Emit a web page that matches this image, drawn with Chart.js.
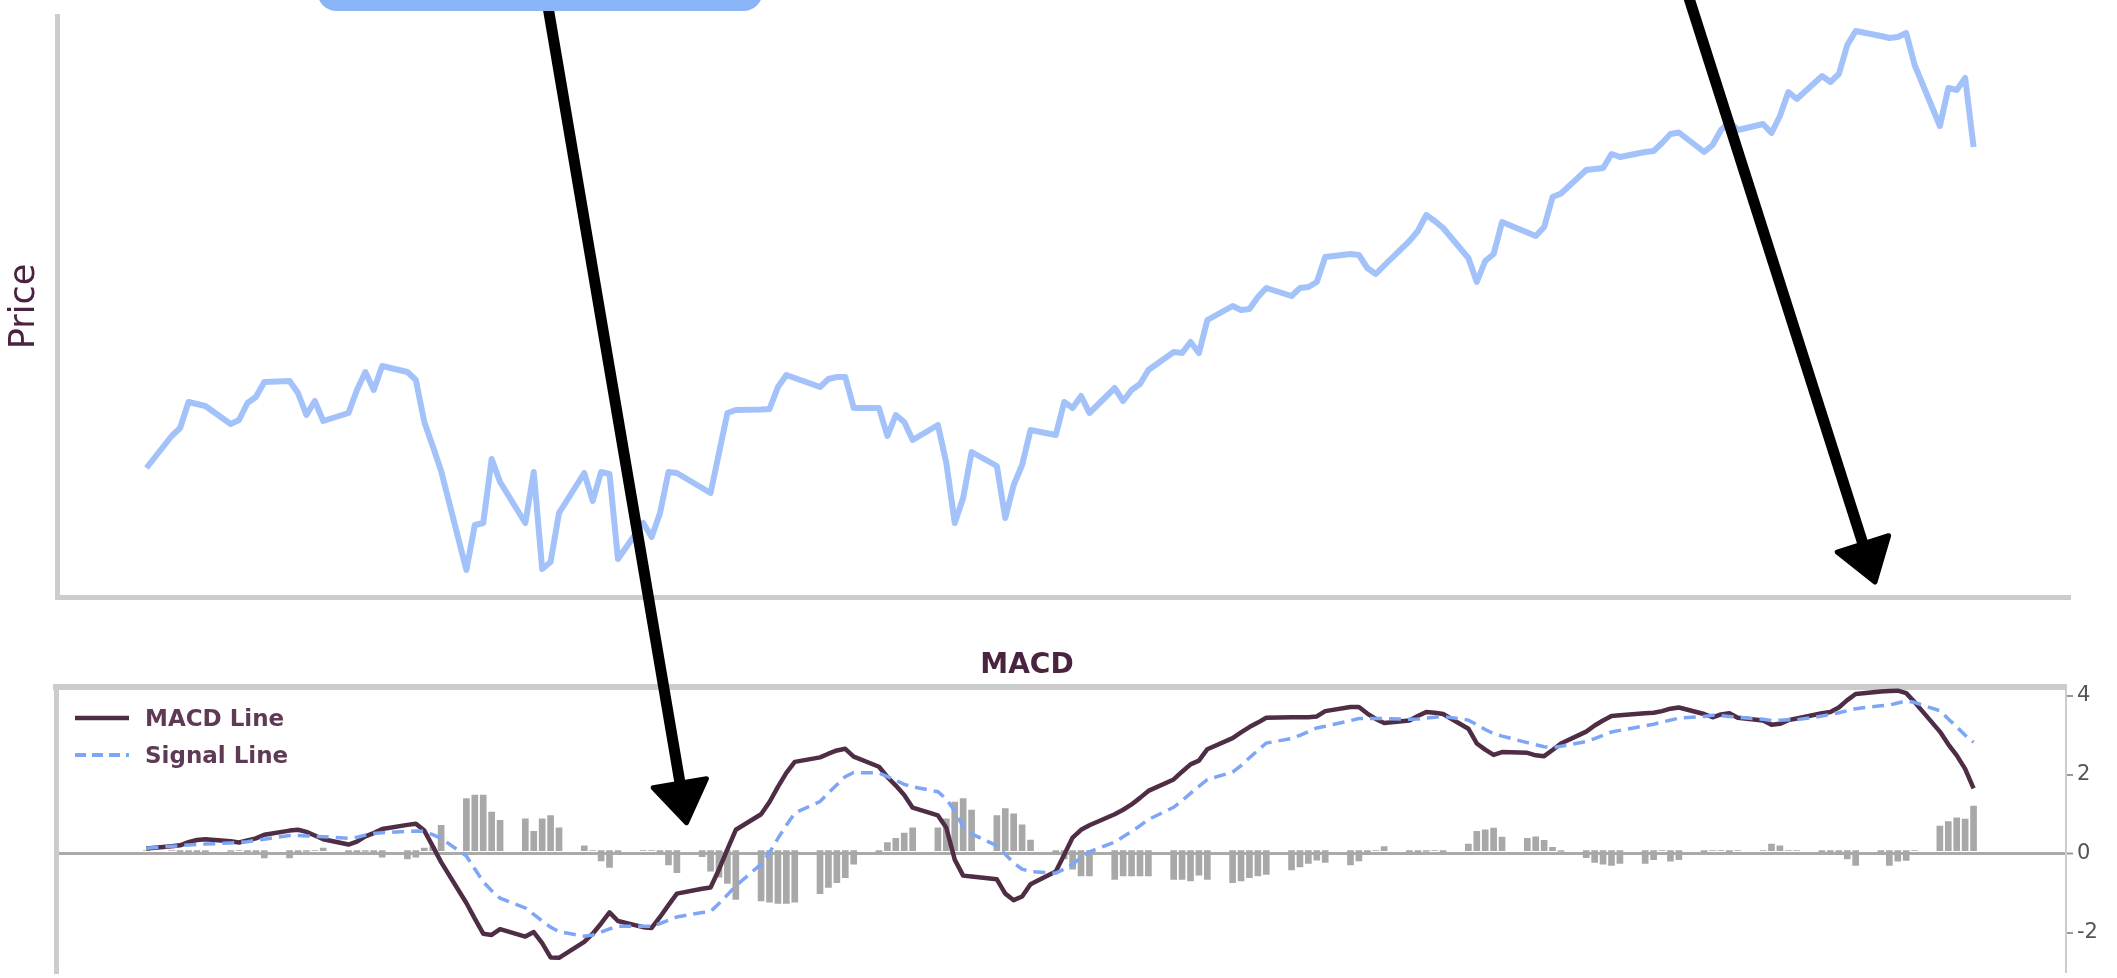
<!DOCTYPE html>
<html>
<head>
<meta charset="utf-8">
<script src="https://cdn.jsdelivr.net/npm/chart.js@4.4.1/dist/chart.umd.min.js"></script>
<style>
  html, body { margin: 0; padding: 0; background: #fff; overflow: hidden; }
  body { width: 2117px; height: 978px; position: relative; }
  canvas { position: absolute; left: 0; }
  #priceChart { top: 0; }
  #macdChart { top: 640px; }
  .macd-title {
    position: absolute; left: 927px; width: 200px; top: 647px;
    text-align: center; font: 600 28px "DejaVu Sans", sans-serif; line-height: 34px;
    color: #4a2340;
  }
  .legend-item {
    position: absolute; left: 75px; height: 30px; display: flex; align-items: center;
    font: bold 23px "DejaVu Sans", sans-serif; color: #5e3a55;
  }
  .legend-item svg { margin-right: 16px; }
  .note-box {
    position: absolute; left: 317px; top: -40px; width: 446px; height: 51px;
    background: #8ab4f8; border-radius: 20px; z-index: 5;
  }
  #arrows { position: absolute; left: 0; top: 0; z-index: 4; pointer-events: none; }
</style>
</head>
<body>
<canvas id="priceChart" width="2117" height="600"></canvas>
<canvas id="macdChart" width="2117" height="350"></canvas>

<div class="macd-title">MACD</div>
<div class="legend-item" style="top:703px">
  <svg width="54" height="10"><line x1="0" y1="5" x2="54" y2="5" stroke="#4f2d45" stroke-width="4.5"/></svg>MACD Line
</div>
<div class="legend-item" style="top:740px">
  <svg width="54" height="10"><line x1="0" y1="5" x2="54" y2="5" stroke="#7ea6f6" stroke-width="4" stroke-dasharray="11 6"/></svg>Signal Line
</div>

<div class="note-box"></div>
<svg id="arrows" width="2117" height="978">
  <line x1="546" y1="-5" x2="680" y2="783" stroke="#000" stroke-width="11"/>
  <polygon points="686.5,822.7 706.4,778.8 653.2,787.8" fill="#000" stroke="#000" stroke-width="5" stroke-linejoin="round"/>
  <line x1="1688" y1="-5" x2="1863" y2="544" stroke="#000" stroke-width="11"/>
  <polygon points="1875,582 1888.6,535.7 1837.2,552.1" fill="#000" stroke="#000" stroke-width="5" stroke-linejoin="round"/>
</svg>

<script>
// Daily closes, one per trading day (weekends skipped), first session on a Friday
const startDate = "2023-06-02";

const closePrice = [
  125.8,
  132.2, 133.8, 139.0, 138.6, 138.2,
  134.6, 135.4, 138.8, 140.0, 143.0,
  143.2, 140.8, 136.4, 139.2, 135.2,
  136.8, 141.4, 145.0, 141.4, 146.2,
  145.0, 143.4, 135.0, 130.2, 125.2,
  105.4, 114.4, 114.8, 127.6, 123.0,
  114.8, 125.0, 105.6, 107.0, 116.8,
  124.8, 119.2, 125.0, 124.6, 107.6,
  114.8, 112.0, 116.8, 125.0, 124.8,
  121.8, 120.8, 128.8, 136.8, 137.4,
  137.5, 137.6, 142.0, 144.4, 143.8,
  142.0, 143.6, 144.0, 144.0, 137.8,
  137.8, 132.2, 136.4, 135.0, 131.4,
  134.4, 126.8, 114.8, 119.8, 129.0,
  126.2, 115.8, 122.4, 126.4, 133.4,
  132.4, 139.0, 137.8, 140.2, 136.8,
  141.8, 139.2, 141.4, 142.6, 145.4,
  149.0, 148.8, 151.0, 148.8, 155.4,
  158.2, 157.4, 157.6, 160.0, 161.8,
  160.2, 161.8, 162.0, 163.0, 168.0,
  168.6, 168.4, 165.8, 164.6, 166.3,
  171.2, 173.2, 176.4, 175.2, 173.8,
  167.8, 163.0, 167.2, 168.6, 175.0,
  172.9, 172.2, 174.0, 180.0, 180.7,
  185.4, 185.6, 185.8, 188.6, 188.0,
  189.0, 189.2, 190.8, 192.6, 192.9,
  189.0, 190.4, 193.4, 195.0, 193.4,
  194.6, 192.8, 196.2, 201.0, 199.6,
  204.2, 203.0, 204.6, 210.4, 213.2,
  212.2, 211.8, 212.0, 212.8, 206.4,
  194.2, 201.8, 201.4, 203.8, 190.0
];

const macdLine = [
  0.05,
  0.11, 0.13, 0.21, 0.26, 0.28,
  0.23, 0.20, 0.25, 0.30, 0.39,
  0.49, 0.51, 0.46, 0.37, 0.28,
  0.15, 0.22, 0.35, 0.43, 0.53,
  0.63, 0.66, 0.49, 0.11, -0.28,
  -1.28, -1.66, -2.03, -2.06, -1.92,
  -2.10, -1.99, -2.26, -2.61, -2.62,
  -2.23, -2.03, -1.78, -1.51, -1.72,
  -1.87, -1.89, -1.62, -1.33, -1.05,
  -0.93, -0.90, -0.46, 0.03, 0.51,
  0.89, 1.19, 1.56, 1.90, 2.17,
  2.28, 2.37, 2.45, 2.49, 2.30,
  2.05, 1.80, 1.59, 1.36, 1.05,
  0.86, 0.56, -0.22, -0.61, -0.63,
  -0.70, -1.05, -1.21, -1.12, -0.82,
  -0.51, -0.10, 0.32, 0.51, 0.62,
  0.89, 1.00, 1.13, 1.29, 1.46,
  1.74, 1.93, 2.11, 2.20, 2.48,
  2.75, 2.89, 3.02, 3.13, 3.25,
  3.26, 3.26, 3.26, 3.28, 3.41,
  3.51, 3.51, 3.35, 3.22, 3.12,
  3.18, 3.29, 3.39, 3.37, 3.34,
  2.98, 2.62, 2.47, 2.34, 2.41,
  2.39, 2.33, 2.31, 2.46, 2.62,
  2.91, 3.06, 3.18, 3.29, 3.31,
  3.36, 3.37, 3.41, 3.47, 3.50,
  3.34, 3.26, 3.33, 3.36, 3.25,
  3.18, 3.08, 3.10, 3.19, 3.23,
  3.36, 3.39, 3.50, 3.68, 3.83,
  3.89, 3.90, 3.91, 3.85, 3.63,
  2.91, 2.60, 2.33, 2.00, 1.52
];

const signalLine = [
  0.06,
  0.11, 0.12, 0.14, 0.15, 0.16,
  0.19, 0.20, 0.22, 0.25, 0.28,
  0.37, 0.37, 0.36, 0.35, 0.34,
  0.30, 0.33, 0.38, 0.42, 0.44,
  0.47, 0.48, 0.47, 0.39, 0.30,
  -0.13, -0.45, -0.76, -0.98, -1.16,
  -1.40, -1.56, -1.72, -1.87, -1.98,
  -2.09, -2.06, -1.99, -1.91, -1.85,
  -1.85, -1.85, -1.78, -1.70, -1.62,
  -1.51, -1.49, -1.29, -1.08, -0.86,
  -0.33, -0.05, 0.30, 0.62, 0.92,
  1.20, 1.41, 1.61, 1.81, 1.91,
  1.90, 1.81, 1.72, 1.62, 1.56,
  1.44, 1.26, 0.97, 0.58, 0.41,
  0.12, -0.09, -0.30, -0.45, -0.51,
  -0.55, -0.45, -0.33, -0.17, -0.03,
  0.21, 0.34, 0.47, 0.61, 0.76,
  1.06, 1.22, 1.40, 1.57, 1.74,
  1.92, 2.08, 2.27, 2.45, 2.63,
  2.74, 2.82, 2.91, 3.00, 3.04,
  3.18, 3.23, 3.23, 3.23, 3.23,
  3.21, 3.22, 3.24, 3.26, 3.28,
  3.19, 3.08, 2.96, 2.86, 2.80,
  2.64, 2.59, 2.54, 2.52, 2.55,
  2.67, 2.74, 2.82, 2.90, 2.94,
  3.05, 3.09, 3.14, 3.19, 3.24,
  3.28, 3.31, 3.30, 3.28, 3.26,
  3.21, 3.18, 3.19, 3.20, 3.20,
  3.29, 3.33, 3.37, 3.42, 3.47,
  3.54, 3.56, 3.61, 3.66, 3.62,
  3.42, 3.22, 3.03, 2.82, 2.65
];

const histogram = [
  0.00,
  0.00, -0.03, -0.10, -0.03, -0.10,
  -0.02, 0.00, -0.03, -0.05, -0.18,
  -0.18, -0.10, -0.02, 0.00, 0.06,
  -0.03, -0.05, -0.02, -0.06, -0.16,
  -0.20, -0.16, 0.06, 0.10, 0.62,
  1.27, 1.36, 1.36, 0.94, 0.74,
  0.78, 0.47, 0.78, 0.86, 0.56,
  0.12, 0.00, -0.25, -0.41, -0.06,
  0.00, 0.00, -0.04, -0.35, -0.54,
  -0.15, -0.50, -0.65, -0.80, -1.19,
  -1.23, -1.26, -1.29, -1.29, -1.26,
  -1.05, -0.90, -0.78, -0.66, -0.33,
  -0.08, 0.20, 0.30, 0.43, 0.56,
  0.56, 0.78, 1.19, 1.27, 0.99,
  0.86, 1.03, 0.90, 0.63, 0.26,
  -0.05, -0.20, -0.45, -0.62, -0.62,
  -0.70, -0.62, -0.62, -0.62, -0.62,
  -0.70, -0.70, -0.74, -0.60, -0.70,
  -0.78, -0.74, -0.66, -0.62, -0.58,
  -0.47, -0.40, -0.31, -0.23, -0.29,
  -0.35, -0.25, -0.10, 0.00, 0.10,
  -0.05, -0.10, -0.02, 0.00, -0.04,
  0.16, 0.47, 0.51, 0.55, 0.33,
  0.30, 0.34, 0.25, 0.08, -0.02,
  -0.17, -0.29, -0.33, -0.36, -0.31,
  -0.31, -0.22, 0.00, -0.26, -0.22,
  -0.05, 0.00, 0.00, -0.05, 0.00,
  0.00, 0.16, 0.12, 0.00, 0.00,
  -0.04, -0.08, -0.10, -0.20, -0.36,
  -0.10, -0.36, -0.26, -0.24, 0.00,
  0.60, 0.71, 0.80, 0.77, 1.09
];

const macdTicks = [-2, 0, 2, 4];

// calendar-day offset of each trading session from startDate (weekends are gaps)
const tradingDayOffsets = (count) => {
  const start = new Date(startDate + "T00:00:00Z").getTime();
  const out = [];
  for (let d = 0; out.length < count; d++) {
    const wd = new Date(start + d * 86400000).getUTCDay();
    if (wd !== 0 && wd !== 6) out.push(d);
  }
  return out;
};
const days = tradingDayOffsets(closePrice.length);
const toPoints = (values) => values.map((v, i) => ({ x: days[i], y: v }));

const axisGrey = "#cccccc";

// Price panel
new Chart(document.getElementById("priceChart"), {
  type: "line",
  data: {
    datasets: [
      {
        label: "Price",
        data: toPoints(closePrice),
        borderColor: "#a4c2fa",
        borderWidth: 6,
        borderJoinStyle: "round",
        pointRadius: 0,
        tension: 0,
      },
    ],
  },
  options: {
    responsive: false,
    animation: false,
    layout: { padding: { top: 16, right: 47, bottom: 3, left: 0 } },
    plugins: { legend: { display: false }, tooltip: { enabled: false } },
    scales: {
      x: {
        type: "linear",
        min: -10.62,
        max: 228.45,
        ticks: { display: false },
        grid: { display: false, drawTicks: false },
        border: { display: true, color: axisGrey, width: 5 },
      },
      y: {
        min: 100,
        max: 216.2,
        ticks: { display: false },
        grid: { display: false, drawTicks: false },
        border: { display: true, color: axisGrey, width: 5 },
        title: {
          display: true,
          text: "Price",
          color: "#4a2340",
          font: { family: "DejaVu Sans", size: 35 },
          padding: { top: 4, bottom: 11 },
        },
      },
    },
  },
});

// MACD panel
new Chart(document.getElementById("macdChart"), {
  type: "bar",
  data: {
    datasets: [
      {
        type: "line",
        label: "Signal Line",
        data: toPoints(signalLine),
        borderColor: "#7ea6f6",
        borderWidth: 3.5,
        borderDash: [12, 7],
        pointRadius: 0,
        tension: 0,
        order: 0,
      },
      {
        type: "line",
        label: "MACD Line",
        data: toPoints(macdLine),
        borderColor: "#4f2d45",
        borderWidth: 4.5,
        borderJoinStyle: "round",
        pointRadius: 0,
        tension: 0,
        order: 1,
      },
      {
        type: "bar",
        label: "Histogram",
        data: toPoints(histogram),
        backgroundColor: "#a8a8a8",
        barThickness: 6,
        order: 2,
      },
    ],
  },
  options: {
    responsive: false,
    animation: false,
    layout: { padding: { top: 47, right: 11, bottom: 9, left: 56 } },
    plugins: { legend: { display: false }, tooltip: { enabled: false } },
    scales: {
      x: {
        type: "linear",
        position: "top",
        min: -10.74,
        max: 227.98,
        offset: false,
        ticks: { display: false },
        grid: { display: false, drawTicks: false },
        border: { display: true, color: axisGrey, width: 6 },
      },
      yLeft: {
        position: "left",
        ticks: { display: false },
        grid: { display: false, drawTicks: false },
        border: { display: true, color: axisGrey, width: 5 },
      },
      y: {
        position: "right",
        min: -3.03,
        max: 4.22,
        afterBuildTicks: (scale) => {
          scale.ticks = macdTicks.map((v) => ({ value: v }));
        },
        afterFit: (scale) => {
          scale.width = 40;
        },
        ticks: {
          color: "#555555",
          padding: 4,
          font: { family: "DejaVu Sans", size: 21 },
        },
        grid: {
          drawTicks: true,
          tickLength: 7,
          tickWidth: 2,
          tickColor: "#999999",
          color: (ctx) => (ctx.tick && ctx.tick.value === 0 ? "#aaaaaa" : "rgba(0,0,0,0)"),
          lineWidth: (ctx) => (ctx.tick && ctx.tick.value === 0 ? 3 : 0),
        },
        border: { display: true, color: axisGrey, width: 2 },
      },
    },
  },
});
</script>
</body>
</html>
